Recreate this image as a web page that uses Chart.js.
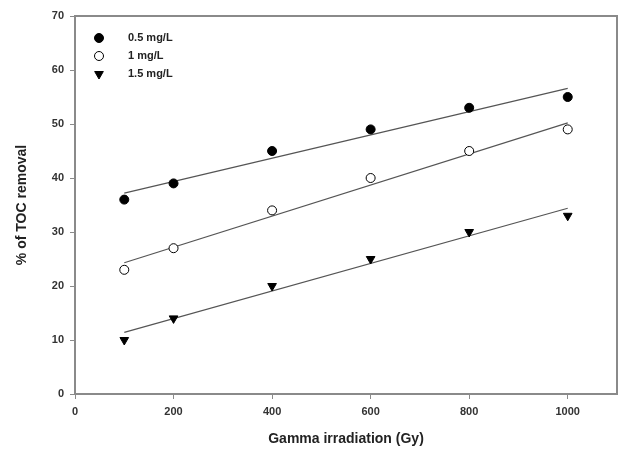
<!DOCTYPE html>
<html>
<head>
<meta charset="utf-8">
<script src="https://cdn.jsdelivr.net/npm/chart.js@4/dist/chart.umd.min.js"></script>
<style>
  html, body { margin: 0; padding: 0; background: #fff; }
  #wrap { width: 623px; height: 462px; }
</style>
</head>
<body>
<div id="wrap"><canvas id="chart" width="623" height="462"></canvas></div>
<script>
// dose (Gy) on x, % TOC removal on y
const doses = [100, 200, 400, 600, 800, 1000];
const toc05 = [36, 39, 45, 49, 53, 55];
const toc10 = [23, 27, 34, 40, 45, 49];
const toc15 = [10, 14, 20, 25, 30, 33];

// fitted lines, end points
const fitX = [100, 1000];
const fit05 = [37.2, 56.6];
const fit10 = [24.3, 50.2];
const fit15 = [11.4, 34.4];

const labels = ['0.5 mg/L', '1 mg/L', '1.5 mg/L'];
const xTicks = [0, 200, 400, 600, 800, 1000];

const axisColor = '#8a8a8a';
const font = 'Liberation Sans, Arial, sans-serif';

const pts = (xs, ys) => xs.map((x, i) => ({x: x, y: ys[i]}));

function markerSet(label, ys, style, fill) {
  return {
    label: label,
    data: pts(doses, ys),
    showLine: false,
    pointStyle: style,
    pointRadius: style === 'triangle' ? 5 : 4.5,
    pointBackgroundColor: fill,
    pointBorderColor: '#000',
    pointBorderWidth: 1,
    rotation: style === 'triangle' ? 180 : 0,
  };
}

function fitSet(ys) {
  return {
    label: '',
    data: pts(fitX, ys),
    showLine: true,
    borderColor: '#555',
    borderWidth: 1.2,
    pointRadius: 0,
    fill: false,
  };
}

// closes the box on top and right, and draws the legend inside the plot
const framePlugin = {
  id: 'frame',
  afterDraw(chart) {
    const ctx = chart.ctx;
    const a = chart.chartArea;
    ctx.save();
    ctx.strokeStyle = axisColor;
    ctx.lineWidth = 2;
    ctx.beginPath();
    ctx.moveTo(a.left, a.top);
    ctx.lineTo(a.right, a.top);
    ctx.lineTo(a.right, a.bottom);
    ctx.stroke();

    const marks = chart.data.datasets.slice(0, 3);
    ctx.font = 'bold 11px ' + font;
    ctx.textBaseline = 'middle';
    marks.forEach((ds, i) => {
      const y = 38 + i * 18;
      ctx.fillStyle = ds.pointBackgroundColor;
      ctx.strokeStyle = '#000';
      ctx.lineWidth = 1;
      Chart.helpers.drawPoint(ctx, {
        pointStyle: ds.pointStyle,
        radius: ds.pointRadius,
        rotation: ds.rotation,
        borderWidth: 1,
      }, 99, y);
      ctx.fillStyle = '#222';
      ctx.fillText(ds.label, 128, y);
    });
    ctx.restore();
  }
};

new Chart(document.getElementById('chart'), {
  type: 'scatter',
  data: {
    datasets: [
      markerSet(labels[0], toc05, 'circle', '#000'),
      markerSet(labels[1], toc10, 'circle', '#fff'),
      markerSet(labels[2], toc15, 'triangle', '#000'),
      fitSet(fit05),
      fitSet(fit10),
      fitSet(fit15),
    ]
  },
  options: {
    responsive: false,
    animation: false,
    layout: {padding: {top: 16, right: 3, left: 0, bottom: 14}},
    plugins: {
      legend: {display: false},
      tooltip: {enabled: false},
    },
    scales: {
      x: {
        type: 'linear',
        min: 0,
        max: 1100,
        afterBuildTicks: (s) => { s.ticks = xTicks.map(v => ({value: v})); },
        afterFit: (s) => { s.height = 54; },
        border: {color: axisColor, width: 2},
        grid: {drawOnChartArea: false, drawTicks: true, tickLength: 5, color: axisColor},
        ticks: {
          color: '#333',
          font: {family: font, size: 11, weight: 'bold'},
          padding: 6,
          maxRotation: 0,
          callback: (v) => String(v),
        },
        title: {
          display: true,
          text: 'Gamma irradiation (Gy)',
          color: '#222',
          font: {family: font, size: 14, weight: 'bold'},
          padding: {top: 12, bottom: 0},
        },
      },
      y: {
        type: 'linear',
        min: 0,
        max: 70,
        afterFit: (s) => { s.width = 75; },
        border: {color: axisColor, width: 2},
        grid: {drawOnChartArea: false, drawTicks: true, tickLength: 5, color: axisColor},
        ticks: {
          stepSize: 10,
          color: '#333',
          font: {family: font, size: 11, weight: 'bold'},
          padding: 6,
        },
        title: {
          display: true,
          text: '% of TOC removal',
          color: '#222',
          font: {family: font, size: 14, weight: 'bold'},
          padding: {top: 14, bottom: 4},
        },
      },
    },
  },
  plugins: [framePlugin],
});
</script>
</body>
</html>
